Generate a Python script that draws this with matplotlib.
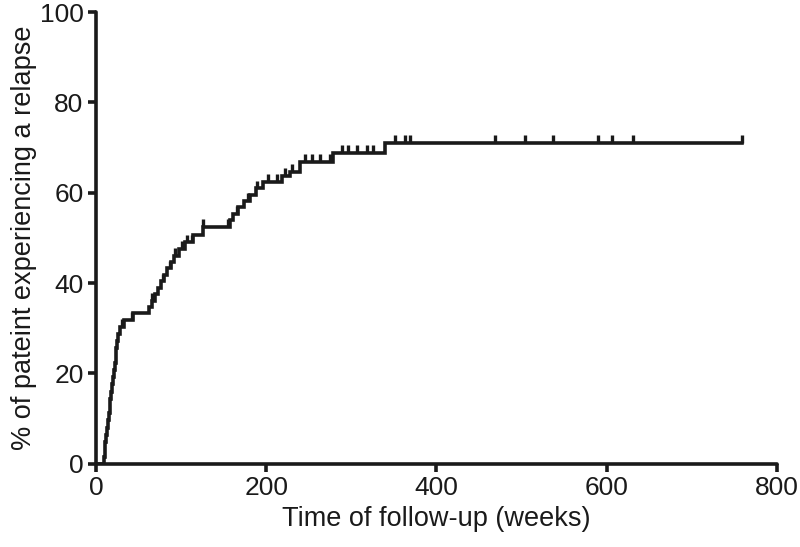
import numpy as np
import matplotlib.pyplot as plt

# event times (weeks) and cumulative % relapsed after each event
event_weeks = [9, 10, 11, 12, 13, 14, 15, 16, 17, 18, 19, 20, 21, 22, 23, 24,
               25, 26, 28, 33, 43,
               62, 66, 69, 73, 76, 80, 84, 88, 92, 97, 104, 114, 126,
               157, 161, 167, 174, 181, 188, 196, 218, 228, 240, 278, 340]
event_pct = [1.6, 3.2, 4.8, 6.4, 8.0, 9.6, 11.2, 12.8, 14.4, 16.0, 17.6, 19.2,
             20.8, 22.4, 24.0, 25.6, 27.2, 28.8, 30.4, 31.8, 33.3,
             34.7, 36.1, 37.6, 39.0, 40.4, 41.9, 43.3, 44.7, 46.1, 47.6, 49.0,
             50.6, 52.5,
             53.9, 55.4, 56.8, 58.2, 59.6, 61.0, 62.4, 63.8, 64.6, 66.8, 68.8,
             71.0]
censor_weeks = [30, 42, 66, 79, 87, 93, 101, 107, 113, 126, 155, 166, 179, 189,
                202, 213, 222, 230, 246, 254, 263, 275, 289, 296, 307, 318, 326,
                351, 363, 369, 469, 504, 537, 590, 606, 631, 759]
last_week = 759

plt.rcParams['font.family'] = ['Liberation Sans', 'DejaVu Sans']

fig = plt.figure(figsize=(8, 5.47), dpi=100)
ax = fig.add_axes([0.12, 0.152, 0.851, 0.826])

t = np.concatenate([[0], event_weeks, [last_week]])
p = np.concatenate([[0], event_pct, [event_pct[-1]]])
ax.step(t, p, where='post', color='#1a1a1a', lw=2.6, solid_joinstyle='miter')

# censor ticks sit on the curve
et = np.array(event_weeks)
ep = np.array(event_pct)
for c in censor_weeks:
    i = np.searchsorted(et, c, side='right') - 1
    lvl = ep[i] if i >= 0 else 0
    ax.plot([c, c], [lvl, lvl + 1.7], color='#1a1a1a', lw=2.4,
            solid_capstyle='butt')

ax.set_xlim(0, 800)
ax.set_ylim(0, 100)
ax.set_xticks([0, 200, 400, 600, 800])
ax.set_yticks([0, 20, 40, 60, 80, 100])
for s in ['top', 'right']:
    ax.spines[s].set_visible(False)
for s in ['left', 'bottom']:
    ax.spines[s].set_linewidth(2.6)
    ax.spines[s].set_color('#1a1a1a')
    ax.spines[s].set_capstyle('round')
ax.tick_params(width=2.6, length=6, labelsize=19, color='#1a1a1a',
               labelcolor='#1a1a1a', pad=3)
ax.set_xlabel('Time of follow-up (weeks)', fontsize=19.5, color='#1a1a1a',
              labelpad=4)
ax.set_ylabel('% of pateint experiencing a relapse', fontsize=19.5,
              color='#1a1a1a', labelpad=2)

fig.savefig('out.png', dpi=100)
